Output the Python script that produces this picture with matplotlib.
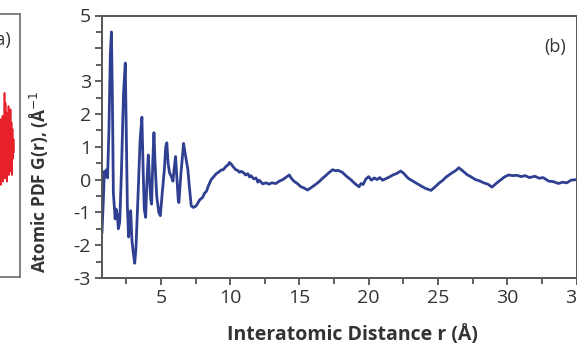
import matplotlib
matplotlib.use("Agg")
from matplotlib import pyplot as plt
from matplotlib.ticker import MultipleLocator, FixedLocator

plt.rcParams['font.family'] = ['Open Sans', 'DejaVu Sans']

# panel (b): atomic PDF
r = [0.75, 0.85, 0.92, 1.00, 1.08, 1.15, 1.25, 1.35, 1.43, 1.50, 1.57, 1.62, 1.70, 1.76,
     1.85, 1.93, 2.03, 2.15, 2.30, 2.43, 2.50, 2.58, 2.67, 2.74, 2.82, 2.91, 3.00, 3.11,
     3.20, 3.35, 3.50, 3.63, 3.72, 3.80, 3.90, 3.98, 4.09, 4.18, 4.27, 4.33, 4.42, 4.50,
     4.58, 4.70, 4.85, 4.96, 5.10, 5.25, 5.35, 5.43, 5.52, 5.63, 5.75, 5.87, 5.95, 6.06,
     6.15, 6.25, 6.30, 6.45, 6.64, 6.75, 6.95, 7.05, 7.19, 7.35,
     7.55, 7.8, 8.0, 8.15, 8.3, 8.4, 8.63, 8.8, 9.0, 9.15, 9.35, 9.5, 9.7, 9.85, 9.95,
     10.1, 10.2, 10.4, 10.55, 10.67, 10.8, 11.0, 11.1, 11.27, 11.4, 11.5, 11.7, 11.87,
     12.0, 12.1, 12.35, 12.6, 12.8, 13.0, 13.31, 13.5, 13.8, 14.0, 14.27, 14.4, 14.6,
     14.85, 15.11, 15.3, 15.59, 15.8, 16.0, 16.2, 16.43, 16.7, 16.9, 17.1, 17.4, 17.6,
     17.8, 18.1, 18.4, 18.7, 19.0, 19.3, 19.45, 19.6, 19.8, 20.0, 20.2, 20.4, 20.6, 20.8,
     21.0, 21.2, 21.5, 21.8, 22.0, 22.3, 22.5, 22.8, 23.0, 23.4, 23.8, 24.1, 24.5, 24.8,
     25.1, 25.3, 25.6, 26.0, 26.3, 26.5, 26.8, 27.1, 27.4, 27.7, 28.0, 28.3, 28.6, 28.9,
     29.2, 29.5, 29.8, 30.1, 30.4, 30.7, 31.0, 31.3, 31.6, 32.0, 32.3, 32.6, 33.0, 33.3,
     33.7, 34.0, 34.3, 34.6, 35.0]
G = [-1.6, -0.6, 0.25, 0.10, 0.30, 0.05, 1.5, 3.8, 4.5, 2.5, -0.4, -0.7, -1.2, -0.9,
     -1.05, -1.5, -1.3, 0.2, 2.6, 3.55, 1.6, -0.8, -1.75, -1.2, -0.95, -1.85, -2.2, -2.55,
     -2.1, -0.5, 1.2, 1.9, 0.3, -0.9, -1.15, -0.2, 0.75, 0.0, -0.6, -0.75, 0.6, 1.43,
     0.5, -0.5, -1.0, -1.1, -0.4, 0.3, 1.0, 1.12, 0.5, 0.2, 0.1, -0.05, 0.3, 0.7,
     0.1, -0.6, -0.7, 0.2, 1.1, 0.8, 0.3, -0.2, -0.8, -0.85,
     -0.80, -0.62, -0.55, -0.42, -0.35, -0.22, 0.0, 0.08, 0.18, 0.22, 0.29, 0.30, 0.40, 0.45, 0.52,
     0.46, 0.40, 0.30, 0.28, 0.22, 0.25, 0.20, 0.14, 0.18, 0.08, 0.12, 0.02, 0.05,
     -0.08, -0.02, -0.13, -0.10, -0.14, -0.10, -0.12, -0.06, 0.0, 0.06, 0.14, 0.05, -0.05,
     -0.12, -0.22, -0.25, -0.32, -0.26, -0.20, -0.14, -0.06, 0.05, 0.12, 0.20, 0.30, 0.27,
     0.28, 0.22, 0.10, 0.0, -0.12, -0.22, -0.12, -0.15, 0.02, 0.09, -0.02, 0.05, 0.0, 0.06,
     -0.02, 0.02, 0.08, 0.15, 0.18, 0.26, 0.20, 0.06, 0.0, -0.10, -0.20, -0.27, -0.33, -0.22,
     -0.10, -0.04, 0.08, 0.20, 0.28, 0.36, 0.26, 0.15, 0.08, 0.0, -0.04, -0.10, -0.14, -0.23,
     -0.12, -0.02, 0.08, 0.14, 0.12, 0.13, 0.09, 0.12, 0.06, 0.10, 0.04, 0.06, -0.05, -0.06,
     -0.12, -0.08, -0.10, -0.02, 0.0]

# panel (a) fragment, only its right edge shows
xa = [13.0, 13.05, 13.1, 13.15, 13.2, 13.25, 13.3, 13.35, 13.4, 13.45, 13.5, 13.55,
      13.6, 13.65, 13.7, 13.75, 13.8, 13.85, 13.9, 13.95, 14.0, 14.05, 14.1, 14.15,
      14.2, 14.25, 14.3, 14.35, 14.4]
ya = [0.6, 1.8, -0.2, 1.5, 0.1, 1.9, -0.1, 1.2, 0.3, 2.6, 0.0, 2.3, 0.2, 2.0, -0.1,
      1.6, 0.4, 2.2, 0.1, 1.8, 0.3, 2.1, 0.2, 1.7, 0.1, 1.5, 0.6, 1.2, 0.8]

W, H = 577, 346
fig = plt.figure(figsize=(W / 100, H / 100), dpi=100)

ax_a = fig.add_axes([(20 - 150) / W, 1 - 277 / H, 150 / W, 263 / H])
ax_a.plot(xa, ya, color="#e8202a", lw=1.2)
ax_a.set_xlim(0, 15)
ax_a.set_ylim(-3, 5)
ax_a.set_xticks([])
ax_a.set_yticks([])
for s in ax_a.spines.values():
    s.set_color("#777777")
    s.set_linewidth(1.3)
fig.text(11 / W, 1 - 40 / H, "(a)", ha="right", va="center", fontsize=13, color="#333333")

ax = fig.add_axes([102 / W, 1 - 278 / H, 474.5 / W, 262.5 / H])
ax.plot(r, G, color="#2f3f91", lw=2)
ax.set_xlim(0.75, 35)
ax.set_ylim(-3, 5)

ax.xaxis.set_major_locator(MultipleLocator(5))
ax.xaxis.set_minor_locator(MultipleLocator(2.5))
ax.yaxis.set_major_locator(FixedLocator([-3, -2, -1, 0, 1, 2, 3, 4, 5]))
ax.yaxis.set_minor_locator(MultipleLocator(0.5))
ax.set_yticklabels(["-3", "-2", "-1", "0", "1", "2", "3", "", "5"])
ax.tick_params(which="both", direction="out", color="#444444", width=1.2,
               labelsize=14, labelcolor="#333333", top=False, right=False)
ax.tick_params(which="major", length=5, pad=3)
ax.tick_params(which="minor", length=4)
for s in ax.spines.values():
    s.set_color("#555555")
    s.set_linewidth(1.4)

ax.set_xlabel("Interatomic Distance r (Å)", fontsize=14, fontweight="bold", color="#333333")
ax.xaxis.set_label_coords(0.527, -0.178)
ax.set_ylabel("Atomic PDF G(r), (Å$^{-1}$", fontsize=12.5, fontweight="bold", color="#333333")
ax.yaxis.set_label_coords(-0.108, 0.368)
ax.text(0.955, 0.88, "(b)", transform=ax.transAxes, ha="center", va="center",
        fontsize=13, color="#333333")

fig.savefig("out.png", dpi=100)
